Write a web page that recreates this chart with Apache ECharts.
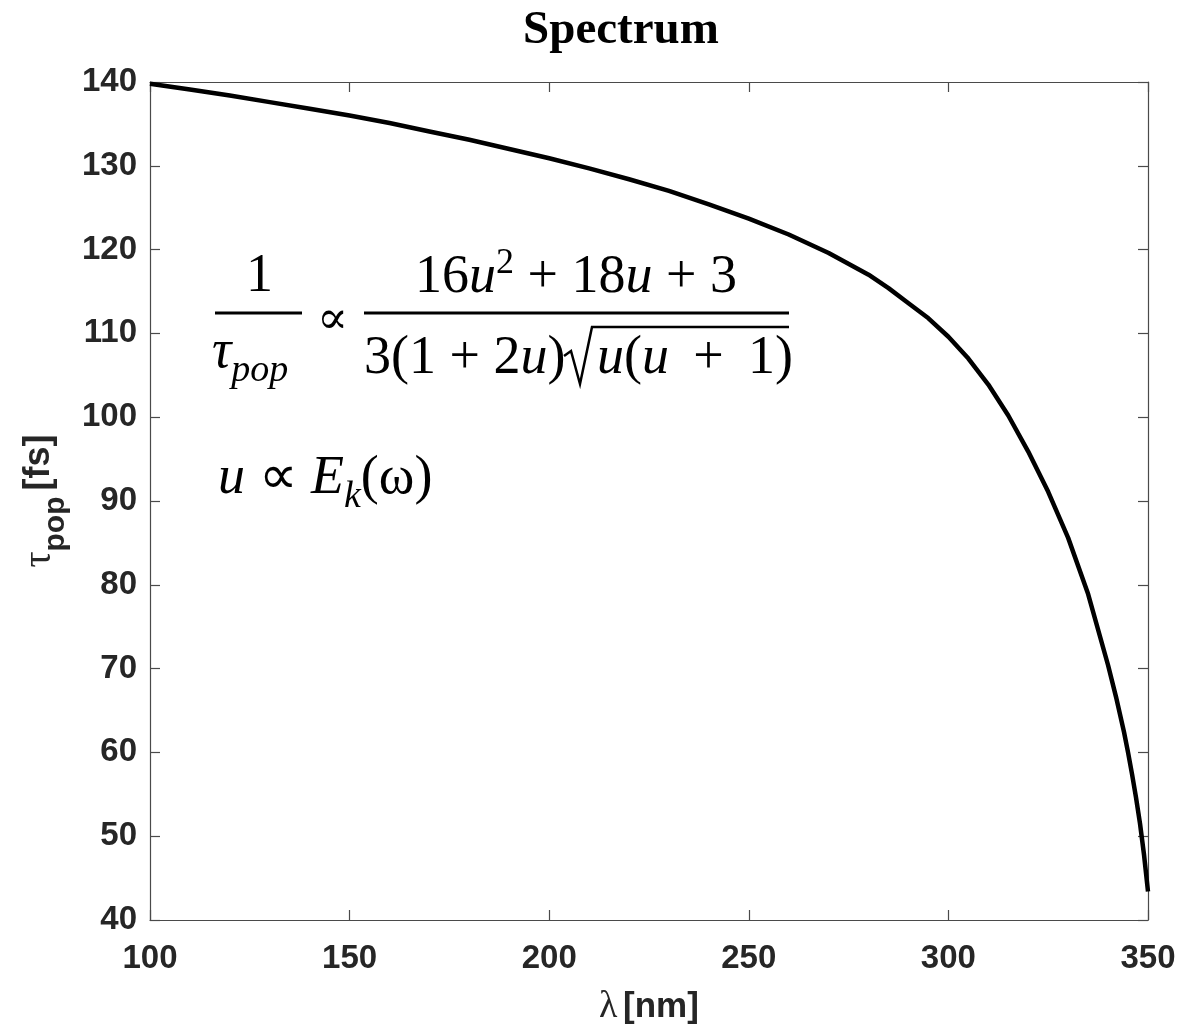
<!DOCTYPE html>
<html>
<head>
<meta charset="utf-8">
<title>Spectrum</title>
<script src="https://cdn.jsdelivr.net/npm/echarts@6/dist/echarts.min.js"></script>
<style>
  html, body { margin: 0; padding: 0; background: #ffffff; }
  #chart { width: 1179px; height: 1027px; }
</style>
</head>
<body>
<div id="chart"></div>
<script>
// Wavelength (nm) and population lifetime (fs)
const wavelength = [100, 110, 120, 130, 140, 150, 160, 170, 180, 190, 200, 210, 220, 230, 240, 250, 260, 270, 280, 285, 290, 295, 300, 305, 310, 315, 320, 325, 330, 335, 340, 342, 344, 345, 346, 347, 348, 349, 350];
const tauPop =     [139.8, 139.1, 138.4, 137.6, 136.8, 136.0, 135.1, 134.1, 133.1, 132.0, 130.9, 129.7, 128.4, 127.0, 125.4, 123.7, 121.8, 119.6, 117.0, 115.4, 113.6, 111.8, 109.6, 107.0, 103.9, 100.2, 95.9, 91.1, 85.6, 78.9, 70.4, 66.6, 62.4, 60.0, 57.4, 54.6, 51.5, 47.8, 43.4];

const xTicks = [100, 150, 200, 250, 300, 350];
const yTicks = [40, 50, 60, 70, 80, 90, 100, 110, 120, 130, 140];

const INK = '#262626';
const FRAME = '#4a4a4a';
const SANS = '"Liberation Sans", Arial, Helvetica, sans-serif';
const SERIF = '"Liberation Serif", "Times New Roman", serif';
const MATH = '"DejaVu Serif", "Liberation Serif", serif';

const chart = echarts.init(document.getElementById('chart'), null, { renderer: 'canvas' });

const points = wavelength.map((w, i) => [w, tauPop[i]]);

const axisCommon = {
  type: 'value',
  axisLine: { show: true, onZero: false, lineStyle: { color: FRAME, width: 1.2 } },
  axisTick: { show: true, inside: true, length: 10, lineStyle: { color: FRAME, width: 1.2 } },
  splitLine: { show: false }
};

// formula annotation, drawn as text + rules
const FS = 54;
const mathRich = {
  n: { fontFamily: SERIF, fontSize: FS, color: '#000' },
  i: { fontFamily: SERIF, fontSize: FS, fontStyle: 'italic', color: '#000' },
  sup: { fontFamily: SERIF, fontSize: 36, color: '#000', verticalAlign: 'top', lineHeight: 64 },
  sub: { fontFamily: SERIF, fontSize: 38, fontStyle: 'italic', color: '#000', verticalAlign: 'bottom', lineHeight: 74 },
  base: { fontFamily: SERIF, fontSize: FS, fontStyle: 'italic', color: '#000', lineHeight: 54 }
};

const graphic = [
  // 1 / tau_pop
  { type: 'text', left: 246, top: 250, style: { text: '1', font: FS + 'px ' + SERIF, fill: '#000' } },
  { type: 'line', shape: { x1: 215, y1: 313, x2: 302, y2: 313 }, style: { stroke: '#000', lineWidth: 3 } },
  { type: 'text', left: 212, top: 326, style: { text: '{base|τ}{sub|pop}', rich: mathRich } },
  // proportional sign
  { type: 'text', left: 317, top: 298, style: { text: '∝', font: '46px ' + MATH, fill: '#000' } },
  // numerator
  { type: 'text', left: 415, top: 246, style: { text: '{n|16}{i|u}{sup|2}{n| + 18}{i|u}{n| + 3}', rich: mathRich } },
  { type: 'line', shape: { x1: 364, y1: 313, x2: 789, y2: 313 }, style: { stroke: '#000', lineWidth: 3 } },
  // denominator
  { type: 'text', left: 364, top: 332, style: { text: '{n|3(1 + 2}{i|u}{n|)}', rich: mathRich } },
  { type: 'polyline', shape: { points: [[564, 356], [571, 351], [580, 384], [592, 327], [789, 327]] }, style: { stroke: '#000', lineWidth: 2.5, fill: null } },
  { type: 'text', left: 597, top: 332, style: { text: '{i|u}{n|(}{i|u}{n| \u2009+\u2009 1)}', rich: mathRich } },
  // u ∝ E_k(ω)
  { type: 'text', left: 218, top: 452, style: { text: '{i|u}{n| ∝ }{i|E}{sub|k}{n|(ω)}', rich: mathRich } }
];

chart.setOption({
  backgroundColor: '#ffffff',
  animation: false,
  title: {
    text: 'Spectrum',
    left: 616,
    top: 2,
    textAlign: 'center',
    textStyle: { fontFamily: SERIF, fontWeight: 'bold', fontSize: 47, color: '#000' }
  },
  grid: { left: 150, right: 31, top: 82, bottom: 107, containLabel: false, outerBoundsMode: 'none' },
  xAxis: [
    Object.assign({}, axisCommon, {
      position: 'bottom',
      min: xTicks[0], max: xTicks[xTicks.length - 1], interval: 50,
      axisLabel: { show: true, margin: 22, color: INK, fontFamily: SANS, fontWeight: 'bold', fontSize: 33 },
      name: '{l|λ}{g| }{u|[nm]}',
      nameLocation: 'middle',
      nameGap: 68,
      nameTextStyle: {
        rich: {
          l: { fontFamily: SERIF, fontSize: 38, color: INK },
          g: { fontSize: 20 },
          u: { fontFamily: SANS, fontWeight: 'bold', fontSize: 35, color: INK }
        }
      }
    }),
    Object.assign({}, axisCommon, {
      position: 'top',
      min: xTicks[0], max: xTicks[xTicks.length - 1], interval: 50,
      axisLabel: { show: false }
    })
  ],
  yAxis: [
    Object.assign({}, axisCommon, {
      position: 'left',
      min: yTicks[0], max: yTicks[yTicks.length - 1], interval: 10,
      axisLabel: { show: true, margin: 13, color: INK, fontFamily: SANS, fontWeight: 'bold', fontSize: 33 },
      name: '{t|τ}{s|pop}{g| }{u|[fs]}',
      nameLocation: 'middle',
      nameGap: 78,
      nameRotate: 90,
      nameTextStyle: {
        rich: {
          t: { fontFamily: SERIF, fontSize: 40, color: INK, lineHeight: 46 },
          s: { fontFamily: SANS, fontWeight: 'bold', fontSize: 30, color: INK, verticalAlign: 'bottom', lineHeight: 64 },
          g: { fontSize: 22 },
          u: { fontFamily: SANS, fontWeight: 'bold', fontSize: 36, color: INK, lineHeight: 46 }
        }
      }
    }),
    Object.assign({}, axisCommon, {
      position: 'right',
      min: yTicks[0], max: yTicks[yTicks.length - 1], interval: 10,
      axisLabel: { show: false }
    })
  ],
  series: [{
    type: 'line',
    data: points,
    xAxisIndex: 0,
    yAxisIndex: 0,
    smooth: false,
    showSymbol: false,
    lineStyle: { color: '#000', width: 4.5, join: 'round', cap: 'butt' },
    clip: true
  }],
  graphic: graphic
});
</script>
</body>
</html>
